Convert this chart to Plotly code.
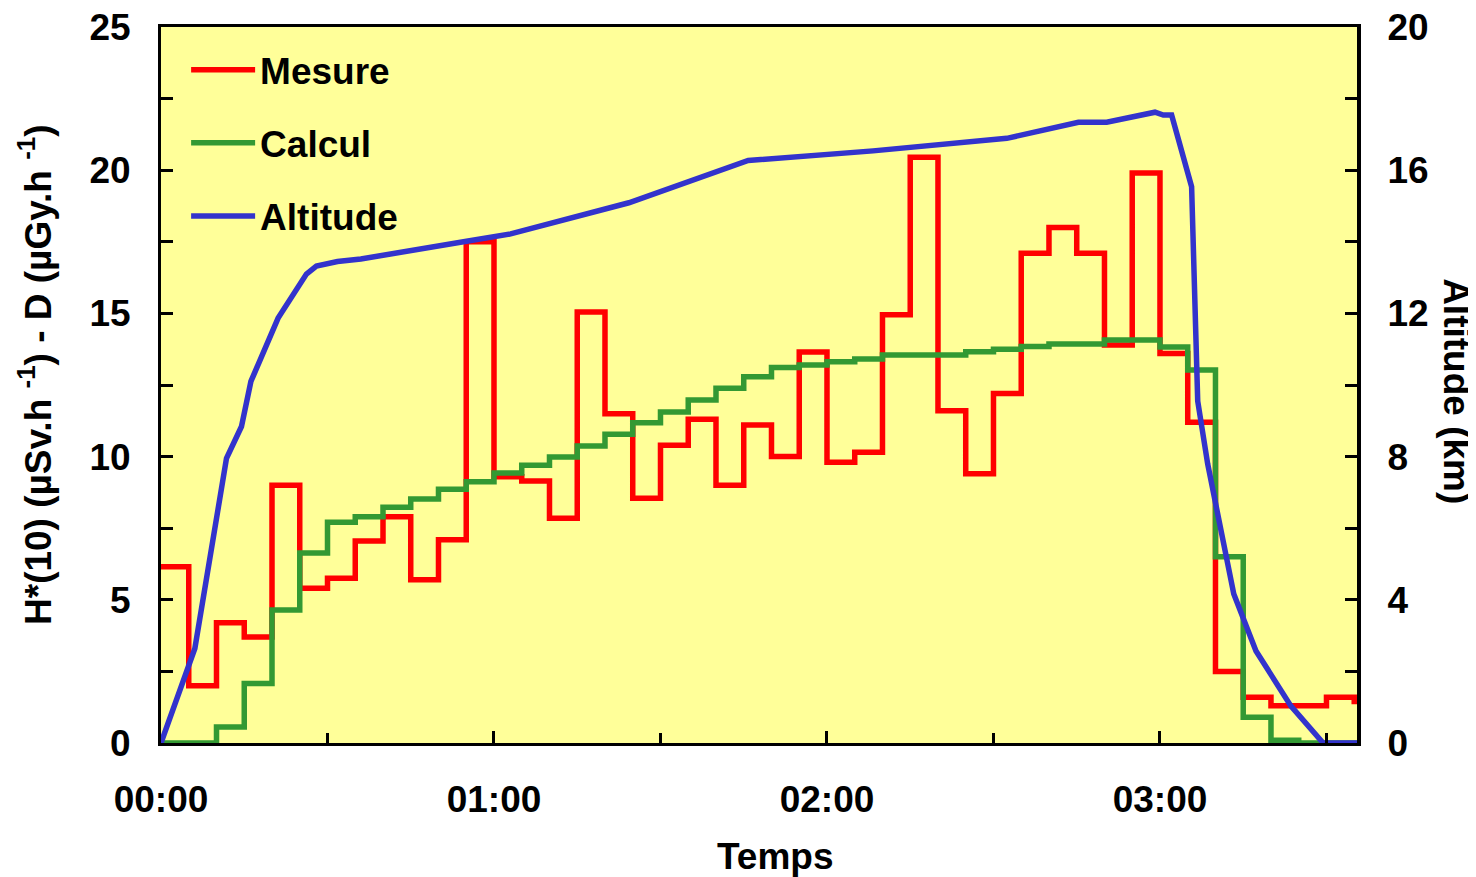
import plotly.graph_objects as go

# ---- data (minutes after 00:00) ----
STEP_TIMES = [0, 5, 10, 15, 20, 25, 30, 35, 40, 45, 50, 55, 60, 65, 70, 75, 80, 85,
              90, 95, 100, 105, 110, 115, 120, 125, 130, 135, 140, 145, 150, 155,
              160, 165, 170, 175, 180, 185, 190, 195, 200, 205, 210, 215]
END_TIME = 216

MESURE = [6.15, 2.0, 4.2, 3.7, 9.0, 5.4, 5.75, 7.05, 7.9, 5.7, 7.1, 17.5,
          9.3, 9.15, 7.85, 15.05, 11.5, 8.55, 10.4, 11.3, 9.0, 11.1, 10.0, 13.65,
          9.8, 10.15, 14.95, 20.45, 11.6, 9.4, 12.2, 17.1, 18.0, 17.1, 13.9, 19.9,
          13.6, 11.2, 2.5, 1.6, 1.3, 1.3, 1.6, 1.45]

CALCUL = [0.0, 0.0, 0.56, 2.08, 4.64, 6.63, 7.71, 7.9, 8.23, 8.52, 8.86, 9.12,
          9.43, 9.7, 9.99, 10.37, 10.78, 11.18, 11.56, 11.98, 12.39, 12.79, 13.11, 13.2,
          13.31, 13.41, 13.55, 13.55, 13.55, 13.66, 13.75, 13.84, 13.93, 13.93, 14.07, 14.07,
          13.83, 13.02, 6.5, 0.9, 0.1, 0.0, 0.0, 0.0]

ALT_TIMES = [0, 6.1, 11.8, 14.5, 16.2, 21.1, 26.2, 28.0, 31.8, 36.0, 54.5, 63.0,
             84.3, 105.8, 128.3, 152.4, 165.3, 170.4, 179.1, 180.6, 182.1, 185.7,
             186.8, 188.6, 193.3, 197.3, 203.6, 209.4, 216]
ALTITUDE = [0, 2.64, 7.95, 8.84, 10.1, 11.87, 13.1, 13.32, 13.45, 13.52, 14.0, 14.22,
            15.09, 16.27, 16.54, 16.89, 17.34, 17.34, 17.62, 17.54, 17.54, 15.54,
            9.55, 7.79, 4.16, 2.57, 1.03, 0, 0]

X_TICKS = [0, 60, 120, 180]
X_TICK_LABELS = ["00:00", "01:00", "02:00", "03:00"]
X_MINOR = [30, 90, 150, 210]
Y_TICKS = [0, 5, 10, 15, 20, 25]
Y_MINOR = [2.5, 7.5, 12.5, 17.5, 22.5]
Y2_TICKS = [0, 4, 8, 12, 16, 20]
Y2_MINOR = [2, 6, 10, 14, 18]

FONT = "Liberation Sans, Arial, sans-serif"
RED = "#FF0000"
GREEN = "#339933"
BLUE = "#3333CC"

fig = go.Figure()
fig.add_trace(go.Scatter(x=STEP_TIMES + [END_TIME], y=MESURE + [MESURE[-1]],
                         mode="lines", line=dict(color=RED, width=5.5, shape="hv"),
                         name="Mesure", legendgroup="a"))
fig.add_trace(go.Scatter(x=STEP_TIMES + [END_TIME], y=CALCUL + [CALCUL[-1]],
                         mode="lines", line=dict(color=GREEN, width=5.5, shape="hv"),
                         name="Calcul", legendgroup="b"))
fig.add_trace(go.Scatter(x=ALT_TIMES, y=ALTITUDE, yaxis="y2",
                         mode="lines", line=dict(color=BLUE, width=5.5),
                         name="Altitude", legendgroup="c"))

tickfont = dict(family=FONT, size=37, color="black", weight="bold")

# page body adds an 8 px offset, so the figure is 8 px smaller and shifted
fig.update_layout(
    width=1468, height=869,
    margin=dict(l=153, r=119, t=19, b=134, autoexpand=False),
    paper_bgcolor="white",
    plot_bgcolor="#FFFF99",
    showlegend=True,
    legend=dict(x=0.021, y=0.983, xanchor="left", yanchor="top",
                bgcolor="rgba(0,0,0,0)", borderwidth=0,
                font=dict(family=FONT, size=37, color="black", weight="bold"),
                traceorder="grouped", tracegroupgap=22, itemwidth=64),
    xaxis=dict(range=[0, 215.5], tickvals=X_TICKS, ticktext=X_TICK_LABELS,
               ticks="inside", ticklen=12, tickwidth=3, tickcolor="black",
               showline=True, linewidth=3, linecolor="black", mirror=True,
               showgrid=False, zeroline=False, tickfont=tickfont, automargin=False,
               ticklabelstandoff=22, ticklabeloverflow="allow",
               minor=dict(tickvals=X_MINOR, ticks="inside", ticklen=10,
                          tickwidth=3, tickcolor="black", showgrid=False)),
    yaxis=dict(range=[0, 25], tickvals=Y_TICKS,
               ticks="inside", ticklen=12, tickwidth=3, tickcolor="black",
               showline=True, linewidth=3, linecolor="black",
               showgrid=False, zeroline=False, tickfont=tickfont, automargin=False,
               ticklabelstandoff=20, ticklabeloverflow="allow",
               minor=dict(tickvals=Y_MINOR, ticks="inside", ticklen=12,
                          tickwidth=3, tickcolor="black", showgrid=False)),
    yaxis2=dict(range=[0, 20], tickvals=Y2_TICKS, overlaying="y", side="right",
                ticks="inside", ticklen=12, tickwidth=3, tickcolor="black",
                showline=True, linewidth=4, linecolor="black",
                showgrid=False, zeroline=False, tickfont=tickfont, automargin=False,
                ticklabelstandoff=19, ticklabeloverflow="allow",
                minor=dict(tickvals=Y2_MINOR, ticks="inside", ticklen=12,
                           tickwidth=3, tickcolor="black", showgrid=False)),
    annotations=[
        dict(text="Temps", xref="paper", yref="paper", x=0.5134, y=-0.159,
             xanchor="center", yanchor="middle", showarrow=False,
             font=dict(family=FONT, size=37, color="black", weight="bold")),
        dict(text="H*(10) (µSv.h <sup>-1</sup>) - D (µGy.h <sup>-1</sup>)",
             xref="paper", yref="paper", x=-0.1045, y=0.514, textangle=-90,
             xanchor="center", yanchor="middle", showarrow=False,
             font=dict(family=FONT, size=37, color="black", weight="bold")),
        dict(text="Altitude (km)", xref="paper", yref="paper", x=1.0835, y=0.4916,
             textangle=90, xanchor="center", yanchor="middle", showarrow=False,
             font=dict(family=FONT, size=37, color="black", weight="bold")),
    ],
)

fig.write_html("out.html")
